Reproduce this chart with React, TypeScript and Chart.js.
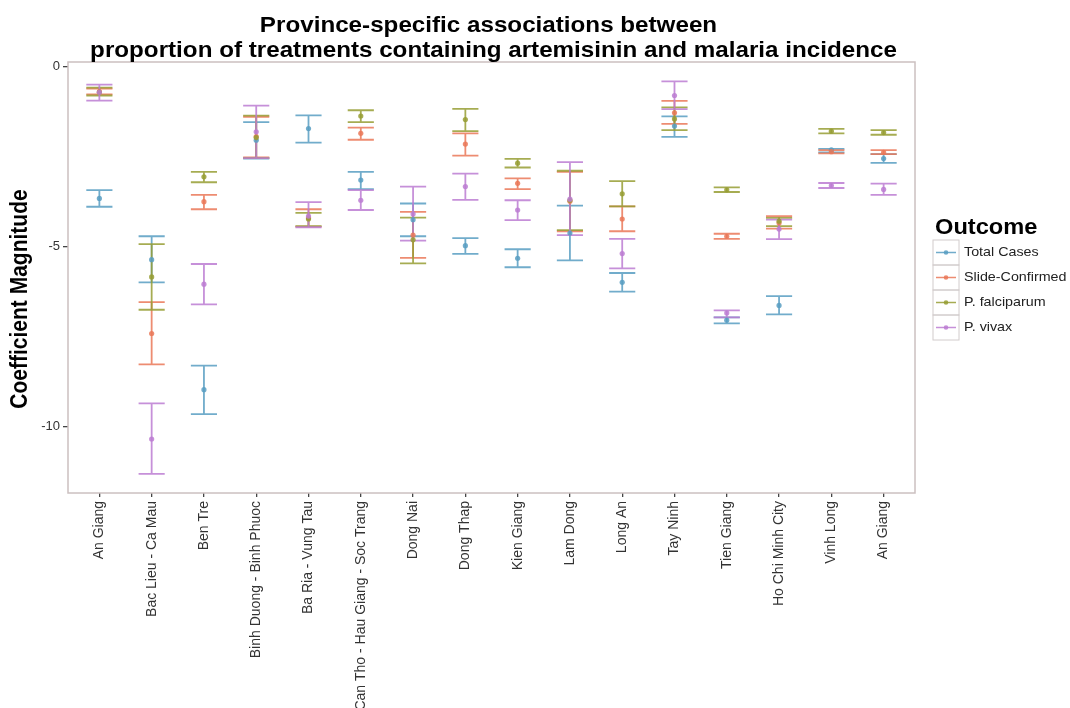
import React, { useEffect, useRef } from "react";
import { Chart, registerables } from "chart.js";
Chart.register(...registerables);

const provinces = [
  "An Giang", "Bac Lieu - Ca Mau", "Ben Tre", "Binh Duong - Binh Phuoc", "Ba Ria - Vung Tau",
  "Can Tho - Hau Giang - Soc Trang", "Dong Nai", "Dong Thap", "Kien Giang", "Lam Dong",
  "Long An", "Tay Ninh", "Tien Giang", "Ho Chi Minh City", "Vinh Long", "An Giang",
];

const outcomes = ["Total Cases", "Slide-Confirmed", "P. falciparum", "P. vivax"];
const outcomeColors = ["rgba(88,158,194,0.85)", "rgba(234,120,88,0.85)", "rgba(150,158,52,0.85)", "rgba(188,124,210,0.85)"];

const yTicks = [-10, -5, 0];
const titleLines = ["Province-specific associations between", "proportion of treatments containing artemisinin and malaria incidence"];
const yTitle = "Coefficient Magnitude";
const legendTitle = "Outcome";

// Total Cases
const totalMean = [-3.67, -5.37, -8.98, -2.05, -1.73, -3.16, -4.26, -4.98, -5.33, -4.63, -6.0, -1.66, -7.05, -6.64, -2.32, -2.56];
const totalLow = [-3.9, -6.0, -9.66, -2.56, -2.12, -3.41, -4.72, -5.21, -5.58, -5.39, -6.26, -1.96, -7.14, -6.89, -2.39, -2.68];
const totalHigh = [-3.44, -4.72, -8.31, -1.55, -1.36, -2.93, -3.81, -4.77, -5.08, -3.87, -5.74, -1.39, -6.97, -6.38, -2.29, -2.44];

// Slide-Confirmed
const slideMean = [-0.7, -7.42, -3.76, -1.95, -4.21, -1.86, -4.69, -2.16, -3.25, -3.75, -4.24, -1.29, -4.72, -4.35, -2.37, -2.39];
const slideLow = [-0.78, -8.28, -3.97, -2.53, -4.45, -2.04, -5.32, -2.48, -3.41, -4.58, -4.58, -1.6, -4.79, -4.51, -2.42, -2.44];
const slideHigh = [-0.62, -6.55, -3.57, -1.4, -3.97, -1.7, -4.04, -1.86, -3.11, -2.93, -3.89, -0.96, -4.65, -4.16, -2.33, -2.33];

// P. falciparum
const falcMean = [-0.72, -5.85, -3.07, -1.98, -4.24, -1.38, -4.82, -1.48, -2.69, -3.72, -3.54, -1.46, -3.43, -4.3, -1.8, -1.84];
const falcLow = [-0.81, -6.76, -3.22, -2.55, -4.44, -1.55, -5.47, -1.8, -2.81, -4.55, -3.89, -1.77, -3.49, -4.44, -1.86, -1.9];
const falcHigh = [-0.59, -4.94, -2.93, -1.37, -4.07, -1.22, -4.2, -1.18, -2.57, -2.9, -3.19, -1.14, -3.36, -4.21, -1.74, -1.77];

// P. vivax
const vivaxMean = [-0.72, -10.35, -6.05, -1.82, -4.16, -3.72, -4.1, -3.34, -3.99, -3.69, -5.2, -0.81, -6.85, -4.52, -3.31, -3.42];
const vivaxLow = [-0.95, -11.32, -6.61, -2.55, -4.47, -3.99, -4.84, -3.71, -4.27, -4.69, -5.61, -1.19, -6.97, -4.8, -3.38, -3.57];
const vivaxHigh = [-0.51, -9.36, -5.49, -1.09, -3.77, -3.44, -3.34, -2.98, -3.72, -2.66, -4.79, -0.42, -6.78, -4.26, -3.24, -3.26];

const means = [totalMean, slideMean, falcMean, vivaxMean];
const lows = [totalLow, slideLow, falcLow, vivaxLow];
const highs = [totalHigh, slideHigh, falcHigh, vivaxHigh];

const FONT = "'Liberation Sans', Arial, sans-serif";
const STRETCH = 1.1;

function stretchedText(ctx: any, text: string, x: number, y: number) {
  ctx.save();
  ctx.translate(x, y);
  ctx.scale(STRETCH, 1);
  ctx.fillText(text, 0, 0);
  ctx.restore();
}

const errorBarPlugin = {
  id: "errorBars",
  beforeDatasetsDraw(chart: any) {
    const ctx = chart.ctx;
    const xs = chart.scales.x;
    const ys = chart.scales.y;
    ctx.save();
    chart.data.datasets.forEach((ds: any) => {
      ctx.strokeStyle = ds.borderColor;
      ctx.lineWidth = 1.8;
      ds.data.forEach((p: any, i: number) => {
        const x = xs.getPixelForValue(p.x);
        const hw = xs.getPixelForValue(p.x + 0.25) - x;
        const yl = ys.getPixelForValue(ds.errLow[i]);
        const yh = ys.getPixelForValue(ds.errHigh[i]);
        ctx.beginPath();
        ctx.moveTo(x, yl);
        ctx.lineTo(x, yh);
        ctx.moveTo(x - hw, yl);
        ctx.lineTo(x + hw, yl);
        ctx.moveTo(x - hw, yh);
        ctx.lineTo(x + hw, yh);
        ctx.stroke();
      });
    });
    ctx.restore();
  },
};

const framePlugin = {
  id: "frame",
  afterDraw(chart: any) {
    const ctx = chart.ctx;
    const a = chart.chartArea;
    ctx.save();
    ctx.strokeStyle = "#cbc0c0";
    ctx.lineWidth = 1.5;
    ctx.strokeRect(a.left, a.top, a.right - a.left, a.bottom - a.top);

    // title
    ctx.fillStyle = "#000";
    ctx.font = `bold 22px ${FONT}`;
    ctx.textAlign = "center";
    ctx.textBaseline = "alphabetic";
    const cx = (a.left + a.right) / 2;
    stretchedText(ctx, titleLines[0], cx - 3, 32);
    stretchedText(ctx, titleLines[1], cx + 2, 57);

    // y axis title
    ctx.font = `bold 21px ${FONT}`;
    ctx.textBaseline = "middle";
    ctx.save();
    ctx.translate(21, 299);
    ctx.rotate(-Math.PI / 2);
    ctx.scale(1, STRETCH);
    ctx.fillText(yTitle, 0, 0);
    ctx.restore();

    // legend
    const lx = a.right + 18;
    ctx.textAlign = "left";
    ctx.textBaseline = "alphabetic";
    ctx.font = `bold 21.5px ${FONT}`;
    ctx.fillStyle = "#000";
    stretchedText(ctx, legendTitle, lx + 2, 234);
    const rowTop = 240;
    const rowH = 25;
    outcomes.forEach((name, i) => {
      const top = rowTop + i * rowH;
      ctx.strokeStyle = "#d2cccc";
      ctx.lineWidth = 1;
      ctx.strokeRect(lx, top, 26, rowH);
      const cy = top + rowH / 2;
      ctx.strokeStyle = outcomeColors[i];
      ctx.lineWidth = 1.5;
      ctx.beginPath();
      ctx.moveTo(lx + 3, cy);
      ctx.lineTo(lx + 23, cy);
      ctx.stroke();
      ctx.fillStyle = outcomeColors[i];
      ctx.beginPath();
      ctx.arc(lx + 13, cy, 2.3, 0, Math.PI * 2);
      ctx.fill();
      ctx.fillStyle = "#222";
      ctx.font = `13px ${FONT}`;
      ctx.textBaseline = "middle";
      stretchedText(ctx, name, lx + 31, cy);
    });
    ctx.restore();
  },
};

export default function App() {
  const ref = useRef<HTMLCanvasElement | null>(null);
  useEffect(() => {
    if (!ref.current) return;
    const datasets = outcomes.map((name, s) => ({
      label: name,
      data: means[s].map((v, i) => ({ x: i, y: v })),
      errLow: lows[s],
      errHigh: highs[s],
      borderColor: outcomeColors[s],
      backgroundColor: outcomeColors[s],
      pointRadius: 2.6,
      pointBorderWidth: 0,
      showLine: false,
      order: 3 - s,
    }));
    const chart = new Chart(ref.current, {
      type: "scatter",
      data: { datasets } as any,
      plugins: [errorBarPlugin, framePlugin],
      options: {
        animation: false,
        responsive: false,
        events: [],
        layout: { padding: { top: 62, right: 155, bottom: 0, left: 0 } },
        plugins: {
          legend: { display: false },
          tooltip: { enabled: false },
          title: { display: false },
        },
        scales: {
          x: {
            type: "linear",
            min: -0.6,
            max: 15.6,
            afterBuildTicks: (scale: any) => {
              scale.ticks = provinces.map((_, i) => ({ value: i }));
            },
            afterFit: (scale: any) => {
              scale.height = 215;
            },
            ticks: {
              autoSkip: false,
              minRotation: 90,
              maxRotation: 90,
              padding: 4,
              color: "#333",
              font: { family: FONT, size: 14 },
              callback: (v: any) => provinces[v as number],
            },
            grid: { drawOnChartArea: false, drawTicks: true, tickLength: 4, color: "#444", lineWidth: 1.3 },
            border: { display: false },
          },
          y: {
            type: "linear",
            min: -11.85,
            max: 0.12,
            afterBuildTicks: (scale: any) => {
              scale.ticks = yTicks.map((v) => ({ value: v }));
            },
            afterFit: (scale: any) => {
              scale.width = 68;
            },
            ticks: {
              padding: 3,
              color: "#333",
              font: { family: FONT, size: 13 },
            },
            grid: { drawOnChartArea: false, drawTicks: true, tickLength: 5, color: "#444", lineWidth: 1.3 },
            border: { display: false },
          },
        },
      } as any,
    });
    return () => chart.destroy();
  }, []);
  return (
    <div style={{ position: "absolute", left: 0, top: 0, width: 1070, height: 708, background: "#fff" }}>
      <canvas ref={ref} width={1070} height={708} />
    </div>
  );
}
